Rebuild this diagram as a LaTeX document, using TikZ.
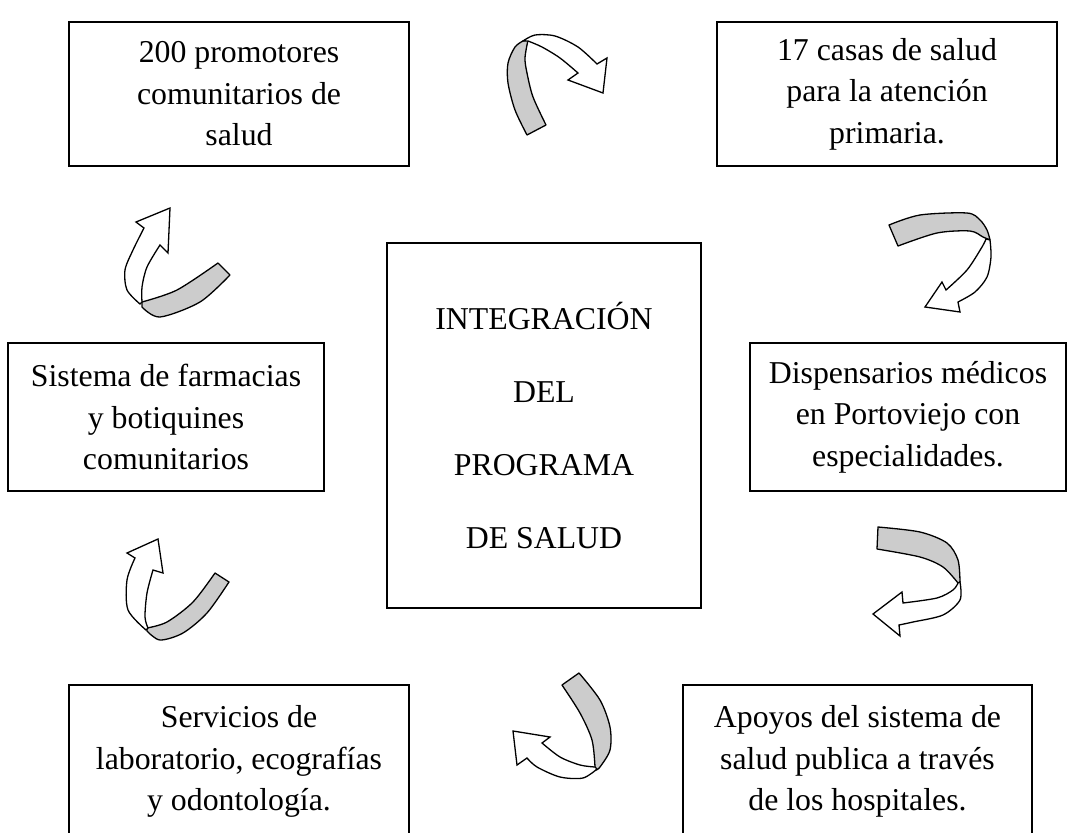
\documentclass[tikz,border=0pt]{standalone}
\usepackage{fontspec}
\setmainfont{Liberation Serif}
\begin{document}
\begin{tikzpicture}[x=1pt,y=-1pt,
  box/.style={draw, line width=1.7pt, align=center, inner sep=0pt,
    font=\fontsize{31.8}{41.5}\selectfont},
  bigbox/.style={box, font=\fontsize{31.8}{73.3}\selectfont},
  back/.style={draw, line width=1.3pt, fill=black!20, line join=round},
  front/.style={draw, line width=1.3pt, fill=white, line join=miter}]
\useasboundingbox (0,0) rectangle (1072,833);
\fill[white] (0,0) rectangle (1072,833);

% boxes
\node[box, minimum width=340pt, minimum height=144pt] (tl) at (239,94)
  {200 promotores\\comunitarios de\\salud};
\node[box, minimum width=340pt, minimum height=144pt] (tr) at (887,94)
  {17 casas de salud\\para la atención\\primaria.};
\node[bigbox, minimum width=314pt, minimum height=365pt] (c) at (544,425.5)
  {INTEGRACIÓN\\DEL\\PROGRAMA\\DE SALUD};
\node[box, minimum width=316pt, minimum height=148pt] (ml) at (166,417)
  {Sistema de farmacias\\y botiquines\\comunitarios};
\node[box, minimum width=316pt, minimum height=148pt] (mr) at (908,417)
  {Dispensarios médicos\\en Portoviejo con\\especialidades.};
\node[box, minimum width=340pt, minimum height=153pt] (bl) at (239,761.5)
  {Servicios de\\laboratorio, ecografías\\y odontología.};
\node[box, minimum width=349pt, minimum height=153pt] (br) at (857.5,761.5)
  {Apoyos del sistema de\\salud publica a través\\de los hospitales.};

% arrow 1 (top)
\filldraw[back] plot[smooth] coordinates {(527,135) (515,110) (508,83) (508,63) (515,47) (523,41)}
  -- plot[smooth] coordinates {(528,40) (525,58) (527,73) (533,97) (546,125)} -- cycle;
\filldraw[front] plot[smooth] coordinates {(523,41) (535,35) (555,36) (578,47) (597,64)}
  -- (607,58) -- (603,93) -- (568,80) -- (578,73)
  -- plot[smooth] coordinates {(578,73) (560,58) (542,47) (528,41)} -- cycle;

% arrow 2 (upper right)
\filldraw[back] plot[smooth] coordinates {(889,225) (920,215) (967,213) (980,220) (987,230) (990,240)}
  -- plot[smooth] coordinates {(990,240) (983,237) (970,231) (937,233) (898,246)} -- cycle;
\filldraw[front] plot[smooth] coordinates {(990,240) (991,257) (987,277) (975,292) (958,302)}
  -- (960,312) -- (925,307) -- (942,282) -- (946,290)
  -- plot[smooth] coordinates {(946,290) (967,270) (982,247) (986,239)} -- cycle;

% arrow 3 (lower right)
\filldraw[back] plot[smooth] coordinates {(878,527) (920,532) (947,543) (958,560) (960,582)}
  -- plot[smooth] coordinates {(958,583) (943,567) (920,557) (877,549)} -- cycle;
\filldraw[front] plot[smooth] coordinates {(960,582) (960,600) (943,615) (913,622) (899,625)}
  -- (900,636) -- (873,614) -- (902,592) -- (903,603)
  -- plot[smooth] coordinates {(903,603) (937,598) (953,590) (958,583)} -- cycle;

% arrow 4 (bottom)
\filldraw[back] (562,685) -- plot[smooth] coordinates {(579,673) (600,700) (610,727) (610,750) (600,767) (596,770)}
  -- plot[smooth] coordinates {(595,767) (592,740) (580,713) (562,685)} -- cycle;
\filldraw[front] plot[smooth] coordinates {(597,769) (583,778) (560,777) (537,767) (527,758)}
  -- (517,765) -- (513,731) -- (550,737) -- (542,743)
  -- plot[smooth] coordinates {(542,743) (560,757) (580,765) (595,767)} -- cycle;

% arrow 5 (lower left)
\filldraw[back] (215,573) -- plot[smooth] coordinates {(229,582) (207,613) (183,633) (160,640) (147,631)}
  -- plot[smooth] coordinates {(147,628) (167,622) (193,602) (215,573)} -- cycle;
\filldraw[front] plot[smooth] coordinates {(146,630) (128,610) (127,580) (135,558)}
  -- (127,553) -- (158,539) -- (163,573) -- (153,570)
  -- plot[smooth] coordinates {(153,570) (147,593) (145,617) (148,628)} -- cycle;

% arrow 6 (upper left)
\filldraw[back] (218,263) -- plot[smooth] coordinates {(230,275) (200,302) (160,317) (142,307)}
  -- plot[smooth] coordinates {(142,302) (177,290) (218,263)} -- cycle;
\filldraw[front] plot[smooth] coordinates {(140,304) (127,290) (125,270) (133,250) (144,228)}
  -- (136,222) -- (170,208) -- (168,253) -- (160,245)
  -- plot[smooth] coordinates {(160,245) (147,267) (142,287) (142,302)} -- cycle;
\end{tikzpicture}
\end{document}
